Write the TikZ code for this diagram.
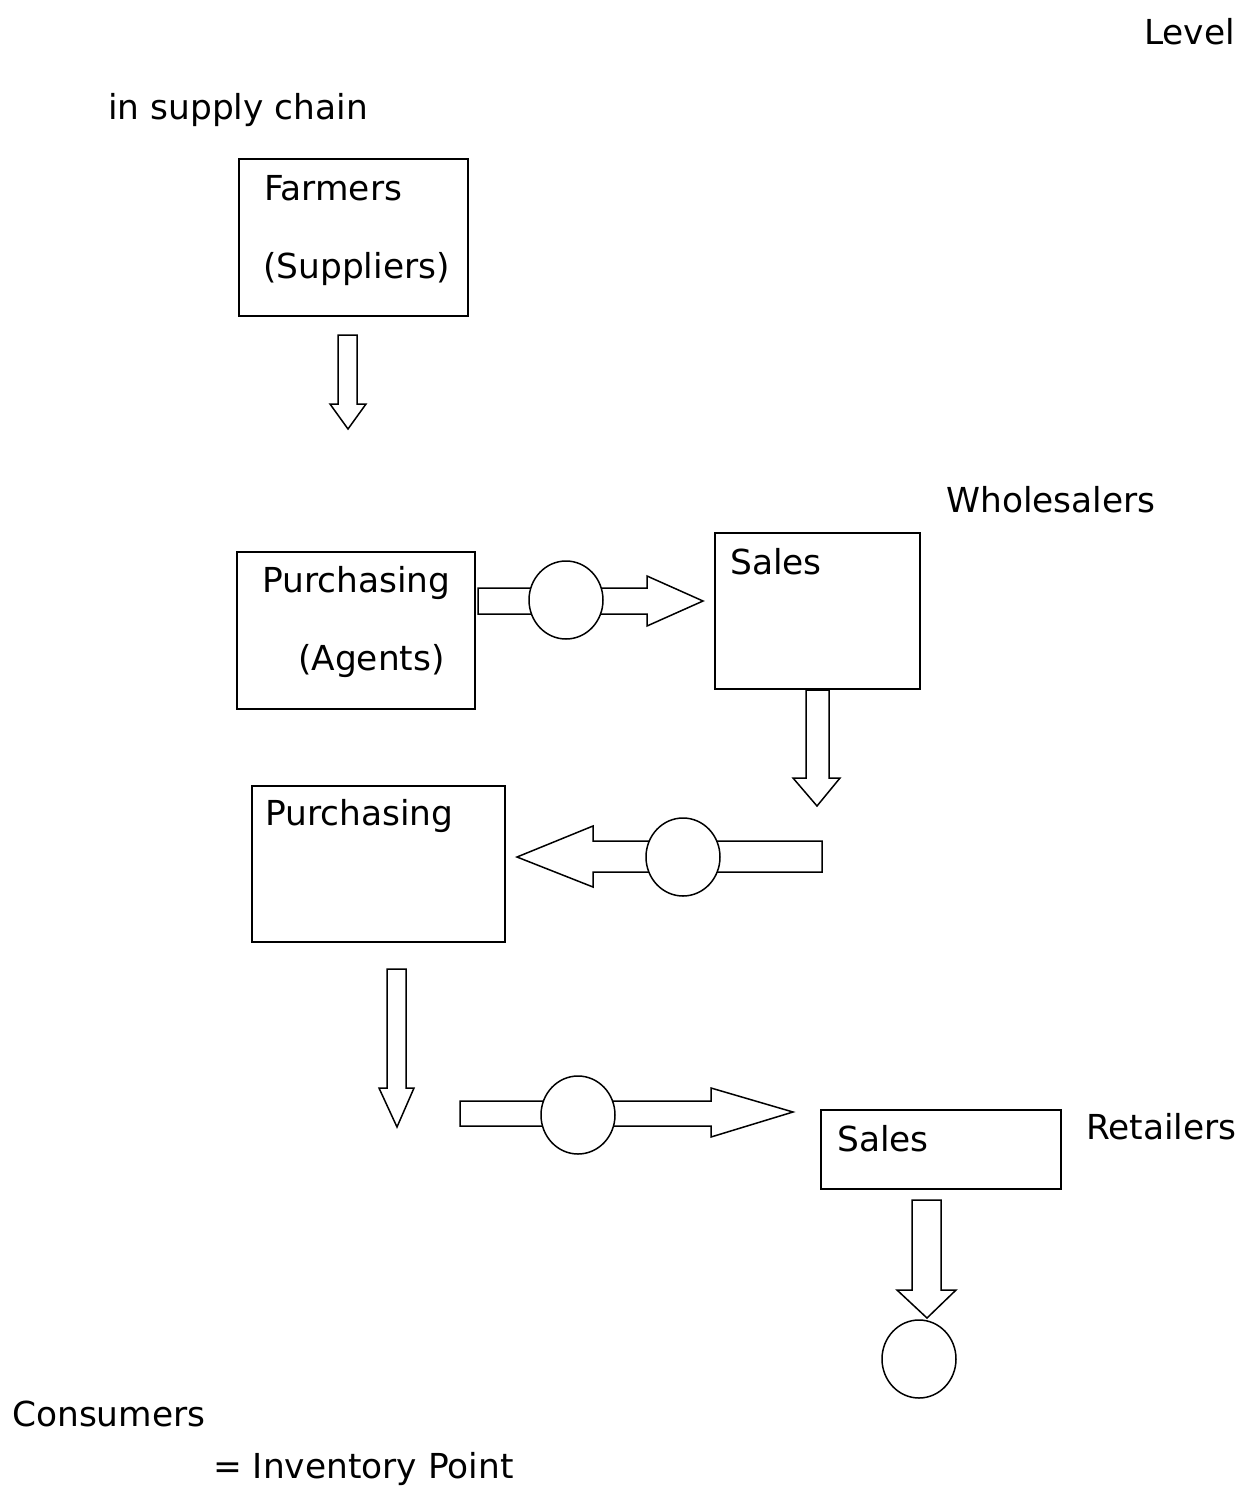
\documentclass[tikz,border=0pt]{standalone}
\usepackage{fontspec}
\setmainfont{DejaVu Sans}
\usetikzlibrary{shapes.geometric}
\begin{document}
\begin{tikzpicture}[x=1pt,y=-1pt,
  box/.style={draw,line width=2pt,rectangle,anchor=north west,inner sep=0pt},
  lbl/.style={anchor=base west,inner sep=0pt,font=\fontsize{34.4}{41}\selectfont},
  blk/.style={draw,line width=1.5pt,fill=white,line join=miter},
  inv/.style={draw,line width=1.5pt,fill=white,ellipse,minimum width=74pt,minimum height=78pt,inner sep=0pt}]
\useasboundingbox (0,0) rectangle (1256,1489);

% header labels
\node[lbl] (level) at (1144,44) {Level};
\node[lbl] (insc) at (108,119) {in supply chain};

% Farmers
\node[box,minimum width=229pt,minimum height=157pt] (farm) at (238,158) {};
\node[lbl] (farmT) at (264,200) {Farmers};
\node[lbl] (farmS) at (263,278) {(Suppliers)};

% down arrow 1
\draw[blk] (338,335) -- (357,335) -- (357,404) -- (366,404) -- (348,429) -- (330,404) -- (338,404) -- cycle;

% Wholesalers
\node[lbl] (whole) at (946,512) {Wholesalers};

% Purchasing (Agents)
\node[box,minimum width=238pt,minimum height=157pt] (pagt) at (236,551) {};
\node[lbl] (pagtT) at (262,592) {Purchasing};
\node[lbl] (pagtS) at (298,670) {(Agents)};

% right arrow 1
\draw[blk] (478,588) -- (647,588) -- (647,576) -- (703,601) -- (647,626) -- (647,614) -- (478,614) -- cycle;
\node[inv] (inv1) at (566,600) {};

% Sales (wholesaler)
\node[box,minimum width=205pt,minimum height=156pt] (wsal) at (714,532) {};
\node[lbl] (wsalT) at (730,574) {Sales};

% down arrow 2
\draw[blk] (806,690) -- (829,690) -- (829,778) -- (840,778) -- (817,806) -- (793,778) -- (806,778) -- cycle;

% left arrow
\draw[blk] (822,841) -- (593,841) -- (593,826) -- (517,857) -- (593,887) -- (593,872) -- (822,872) -- cycle;
\node[inv] (inv2) at (683,857) {};

% Purchasing (retailer)
\node[box,minimum width=253pt,minimum height=156pt] (rpur) at (251,785) {};
\node[lbl] (rpurT) at (265,825) {Purchasing};

% down arrow 3
\draw[blk] (387,969) -- (406,969) -- (406,1088) -- (414,1088) -- (397,1127) -- (379,1088) -- (387,1088) -- cycle;

% right arrow 2
\draw[blk] (460,1101) -- (711,1101) -- (711,1088) -- (793,1112) -- (711,1137) -- (711,1126) -- (460,1126) -- cycle;
\node[inv] (inv3) at (578,1115) {};

% Sales (retailer)
\node[box,minimum width=240pt,minimum height=79pt] (rsal) at (820,1109) {};
\node[lbl] (rsalT) at (837,1151) {Sales};
\node[lbl] (ret) at (1086,1139) {Retailers};

% down arrow 4
\draw[blk] (912,1200) -- (941,1200) -- (941,1290) -- (956,1290) -- (927,1318) -- (897,1290) -- (912,1290) -- cycle;
\node[inv] (inv4) at (919,1359) {};

% footer
\node[lbl] (cons) at (12,1426) {Consumers};
\node[lbl] (legend) at (213,1478) {= Inventory Point};
\end{tikzpicture}
\end{document}
